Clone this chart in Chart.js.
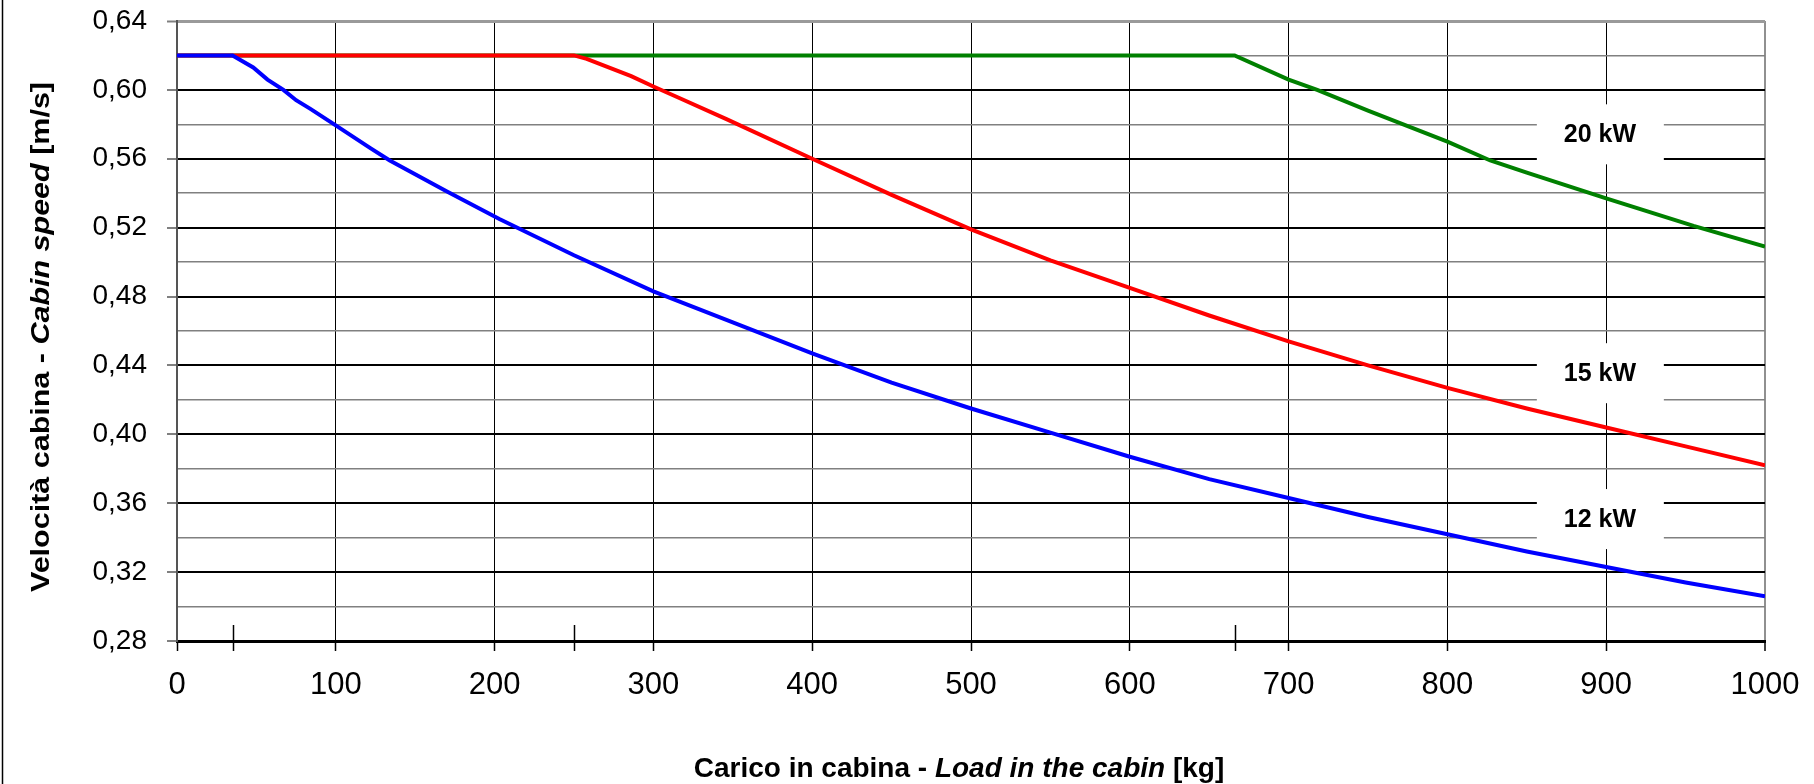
<!DOCTYPE html>
<html>
<head>
<meta charset="utf-8">
<script src="https://cdn.jsdelivr.net/npm/chart.js@4.4.1/dist/chart.umd.min.js"></script>
<style>
html,body{margin:0;padding:0;background:#fff;}
#wrap{width:1814px;height:784px;position:relative;}
canvas{display:block;}
</style>
</head>
<body>
<div id="wrap"><canvas id="c" width="1814" height="784"></canvas></div>
<script>
// ---- data ----
const xTickLabels = ['0','100','200','300','400','500','600','700','800','900','1000'];
const yTickLabels = ['0,28','0,32','0,36','0,40','0,44','0,48','0,52','0,56','0,60','0,64'];

const load12  = [0, 35, 48, 57, 67, 75, 84, 99, 122, 134, 170, 203, 250, 300, 350, 400, 450, 500, 550, 600, 650, 700, 750, 800, 850, 900, 950, 1000];
const speed12 = [0.62, 0.62, 0.613, 0.606, 0.600, 0.594, 0.589, 0.580, 0.566, 0.559, 0.541, 0.525, 0.504, 0.483, 0.465, 0.447, 0.430, 0.415, 0.401, 0.387, 0.374, 0.363, 0.352, 0.342, 0.332, 0.323, 0.314, 0.306];

const load15  = [0, 250, 258, 286, 300, 317, 346, 400, 450, 500, 550, 600, 650, 700, 750, 800, 850, 900, 950, 1000];
const speed15 = [0.62, 0.62, 0.618, 0.608, 0.602, 0.595, 0.583, 0.560, 0.539, 0.519, 0.501, 0.485, 0.469, 0.454, 0.440, 0.427, 0.415, 0.404, 0.393, 0.382];

const load20  = [0, 666, 700, 718, 750, 800, 827, 850, 900, 955, 1000];
const speed20 = [0.62, 0.62, 0.606, 0.600, 0.588, 0.570, 0.559, 0.552, 0.537, 0.521, 0.509];

const curveLabels = ['20 kW', '15 kW', '12 kW'];
const breakLoads = [35, 250, 666];

// ---- annotation placement (data units) ----
const labelLoad = 896;
const labelSpeeds = [0.5742, 0.4355, 0.3508];

const FONT = '"Liberation Sans", Arial, Helvetica, sans-serif';

function pts(xs, ys){ return xs.map((x,i)=>({x:x, y:ys[i]})); }
function yk(v){ return Math.round(v*100); }

const deco = {
  id: 'deco',
  beforeDatasetsDraw(chart){
    const {ctx, scales:{x, y}} = chart;
    ctx.save();
    // breakpoint ticks across x-axis
    ctx.strokeStyle = '#000';
    ctx.lineWidth = 1.5;
    breakLoads.forEach(v => {
      const px = Math.round(x.getPixelForValue(v)) + 0.5;
      ctx.beginPath();
      ctx.moveTo(px, y.bottom - 16);
      ctx.lineTo(px, y.bottom + 10);
      ctx.stroke();
    });
    // label boxes
    curveLabels.forEach((t, i) => {
      const px = x.getPixelForValue(labelLoad);
      const py = y.getPixelForValue(labelSpeeds[i]);
      ctx.fillStyle = '#fff';
      ctx.fillRect(px - 63, py - 30, 127, 60);
      ctx.fillStyle = '#000';
      ctx.font = 'bold 25px ' + FONT;
      ctx.textAlign = 'center';
      ctx.textBaseline = 'middle';
      ctx.fillText(t, px, py + 1);
    });
    ctx.restore();
  },
  afterDraw(chart){
    const {ctx} = chart;
    ctx.save();
    // outer frame (left edge)
    ctx.strokeStyle = '#000';
    ctx.lineWidth = 1.5;
    ctx.beginPath();
    ctx.moveTo(2.5, 0); ctx.lineTo(2.5, 784);
    ctx.stroke();

    ctx.fillStyle = '#000';
    ctx.textBaseline = 'alphabetic';
    ctx.textAlign = 'left';
    // x-axis title
    const xs = 28;
    const xParts = [
      ['Carico in cabina - ', 'bold ' + xs + 'px ' + FONT],
      ['Load in the cabin', 'italic bold ' + xs + 'px ' + FONT],
      [' [kg]', 'bold ' + xs + 'px ' + FONT]
    ];
    let tw = 0;
    xParts.forEach(p => { ctx.font = p[1]; tw += ctx.measureText(p[0]).width; });
    let cx = 959 - tw/2;
    xParts.forEach(p => { ctx.font = p[1]; ctx.fillText(p[0], cx, 777); cx += ctx.measureText(p[0]).width; });

    // y-axis title (rotated)
    const ys = 26;
    const yParts = [
      ['Velocità cabina - ', 'bold ' + ys + 'px ' + FONT],
      ['Cabin speed', 'italic bold ' + ys + 'px ' + FONT],
      [' [m/s]', 'bold ' + ys + 'px ' + FONT]
    ];
    let th = 0;
    yParts.forEach(p => { ctx.font = p[1]; th += ctx.measureText(p[0]).width; });
    const targetLen = 510;
    const sc = targetLen / th;
    ctx.translate(49, 337);
    ctx.rotate(-Math.PI/2);
    ctx.scale(sc, 1);
    let cy = -th/2;
    yParts.forEach(p => { ctx.font = p[1]; ctx.fillText(p[0], cy, 0); cy += ctx.measureText(p[0]).width; });
    ctx.restore();
  }
};

Chart.defaults.font.family = FONT;
Chart.defaults.color = '#000';

new Chart(document.getElementById('c'), {
  type: 'line',
  data: {
    datasets: [
      { label: '12 kW', data: pts(load12, speed12), borderColor: '#0000ff', borderWidth: 4, pointRadius: 0, tension: 0, fill: false },
      { label: '15 kW', data: pts(load15, speed15), borderColor: '#ff0000', borderWidth: 4, pointRadius: 0, tension: 0, fill: false },
      { label: '20 kW', data: pts(load20, speed20), borderColor: '#008000', borderWidth: 4, pointRadius: 0, tension: 0, fill: false }
    ]
  },
  options: {
    responsive: false,
    animation: false,
    devicePixelRatio: 1,
    layout: { padding: { top: 21, right: 49, left: 0, bottom: 0 } },
    plugins: { legend: { display: false }, tooltip: { enabled: false }, title: { display: false } },
    scales: {
      x: {
        type: 'linear',
        min: 0, max: 1000,
        afterFit(s){ s.height = 143; s.paddingLeft = 0; s.paddingRight = 0; },
        ticks: {
          stepSize: 100,
          autoSkip: false,
          maxRotation: 0,
          padding: 16,
          font: { size: 31 },
          color: '#000',
          callback: (v) => xTickLabels[Math.round(v/100)]
        },
        grid: {
          color: c => (c.tick && c.tick.value === 1000) ? '#909090' : '#000',
          lineWidth: c => (c.tick && c.tick.value === 1000) ? 2 : 1,
          tickLength: 10,
          tickColor: '#000',
          tickWidth: 1.5
        },
        border: { display: true, color: '#000', width: 3 }
      },
      y: {
        type: 'linear',
        min: 0.28, max: 0.64,
        afterFit(s){ s.width = 177; s.paddingTop = 0; s.paddingBottom = 0; },
        ticks: {
          stepSize: 0.02,
          autoSkip: false,
          padding: 20,
          font: { size: 28 },
          color: '#000',
          callback: (v) => { const k = yk(v); return (k % 4 === 0) ? yTickLabels[(k - 28)/4] : ''; }
        },
        grid: {
          color: c => { const k = yk(c.tick.value); if (k === 64) return '#9a9a9a'; return (k % 4 === 0) ? '#000' : '#808080'; },
          lineWidth: c => { const k = yk(c.tick.value); if (k === 64) return 3; return (k % 4 === 0) ? 2 : 1.5; },
          tickLength: 10,
          tickColor: c => (yk(c.tick.value) % 4 === 0) ? '#808080' : 'rgba(0,0,0,0)',
          tickWidth: 2
        },
        border: { display: true, color: '#555', width: 2 }
      }
    }
  },
  plugins: [deco]
});
</script>
</body>
</html>
